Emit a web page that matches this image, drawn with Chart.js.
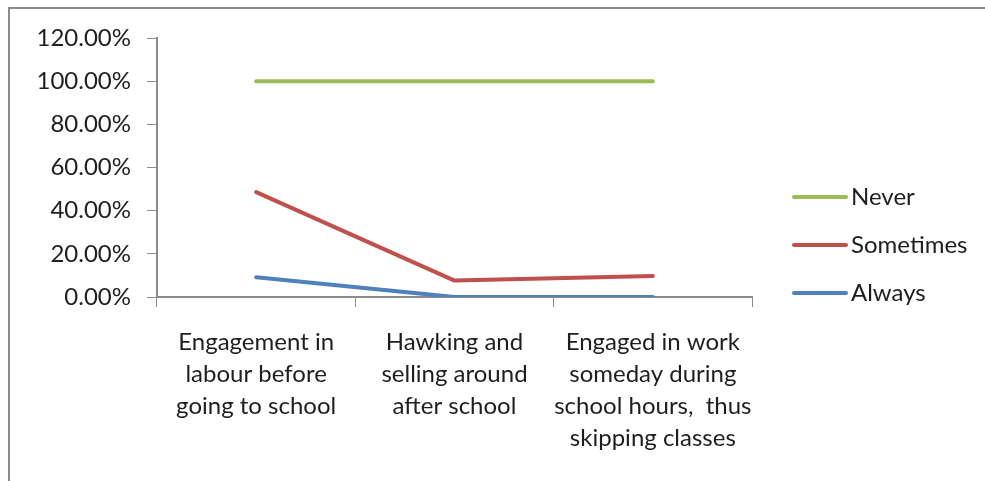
<!DOCTYPE html>
<html>
<head>
<meta charset="utf-8">
<script src="https://cdn.jsdelivr.net/npm/chart.js@4"></script>
<style>
  html, body { margin: 0; padding: 0; background: #fff; }
  #wrap { position: relative; width: 985px; height: 481px; overflow: hidden; }
  #frame { position: absolute; left: 8px; top: 7px; width: 1000px; height: 500px;
           border-top: 2px solid #8c8c8c; border-left: 2px solid #8c8c8c; }
  #chart { position: absolute; left: 0; top: 0; }
</style>
</head>
<body>
<div id="wrap">
  <div id="frame"></div>
  <canvas id="chart" width="985" height="481"></canvas>
</div>
<script>
// data
const categories = [
  ['Engagement in', 'labour before', 'going to school'],
  ['Hawking and', 'selling around', 'after school'],
  ['Engaged in work', 'someday during', 'school hours,  thus', 'skipping classes']
];
const seriesNames = ['Never', 'Sometimes', 'Always'];
const neverValues = [1.0, 1.0, 1.0];
const sometimesValues = [0.486, 0.076, 0.097];
const alwaysValues = [0.091, 0, 0];
const seriesColors = ['#9bbb59', '#c0504d', '#4f81bd'];
const yTicks = { min: 0, max: 1.2, step: 0.2 };

const FONT = 'Lato';
const FSIZE = 24;
const TEXT = '#1e1e1e';
const AXIS = '#8c8c8c';

// legend drawn to the right of the plot, like the office chart
const sideLegend = {
  id: 'sideLegend',
  afterDraw(chart) {
    const ctx = chart.ctx;
    const area = chart.chartArea;
    const x0 = area.right + 42;
    ctx.save();
    ctx.font = FSIZE + 'px ' + FONT;
    ctx.textBaseline = 'middle';
    ctx.textAlign = 'left';
    chart.data.datasets.forEach((ds, i) => {
      const y = 197 + i * 48;
      ctx.strokeStyle = ds.borderColor;
      ctx.lineWidth = 4;
      ctx.lineCap = 'round';
      ctx.beginPath();
      ctx.moveTo(x0, y);
      ctx.lineTo(x0 + 52, y);
      ctx.stroke();
      ctx.fillStyle = TEXT;
      ctx.fillText(ds.label, x0 + 57, y);
    });
    ctx.restore();
  }
};

const values = [neverValues, sometimesValues, alwaysValues];

new Chart(document.getElementById('chart'), {
  type: 'line',
  data: {
    labels: categories,
    datasets: seriesNames.map((name, i) => ({
      label: name,
      data: values[i],
      borderColor: seriesColors[i],
      backgroundColor: seriesColors[i],
      borderWidth: 4,
      borderCapStyle: 'round',
      borderJoinStyle: 'round',
      tension: 0,
      pointRadius: 0,
      pointHoverRadius: 0
    }))
  },
  options: {
    responsive: false,
    animation: false,
    layout: { padding: { left: 0, top: 38, right: 233, bottom: 0 } },
    plugins: {
      legend: { display: false },
      tooltip: { enabled: false }
    },
    scales: {
      x: {
        offset: true,
        grid: { offset: true, drawOnChartArea: false, color: AXIS, tickLength: 10 },
        border: { color: AXIS, width: 2 },
        ticks: {
          color: TEXT, padding: 19, maxRotation: 0, autoSkip: false,
          font: { family: FONT, size: FSIZE, lineHeight: 32 / FSIZE }
        },
        afterFit(scale) { scale.height = 184; }
      },
      y: {
        min: yTicks.min,
        max: yTicks.max,
        grid: { drawOnChartArea: false, color: AXIS, tickLength: 10 },
        border: { color: AXIS, width: 2 },
        ticks: {
          stepSize: yTicks.step,
          color: TEXT, padding: 16,
          font: { family: FONT, size: FSIZE },
          callback: v => (v * 100).toFixed(2) + '%'
        },
        afterFit(scale) { scale.width = 157; }
      }
    }
  },
  plugins: [sideLegend]
});
</script>
</body>
</html>
